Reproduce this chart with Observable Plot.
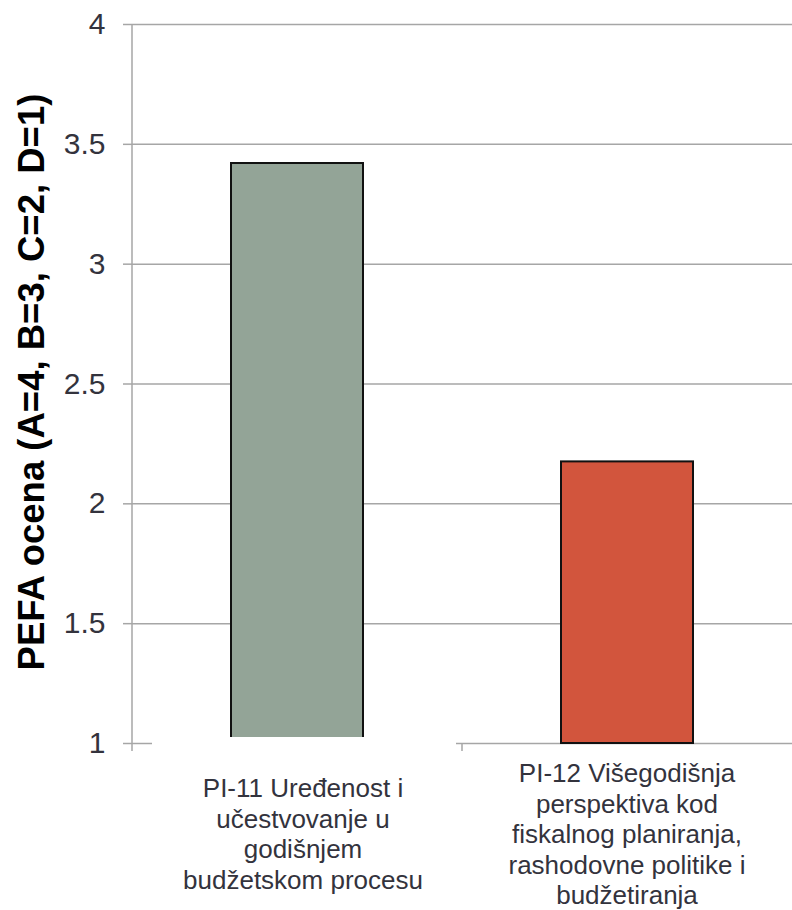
<!DOCTYPE html>
<html>
<head>
<meta charset="utf-8">
<script src="https://cdn.jsdelivr.net/npm/d3@7"></script>
<script src="https://cdn.jsdelivr.net/npm/@observablehq/plot@0.6"></script>
<style>
  html, body { margin: 0; padding: 0; background: #fff; }
  #chart { position: relative; width: 792px; height: 910px; }
</style>
</head>
<body>
<div id="chart"></div>
<script>
const categories = ["PI-11", "PI-12"];
const categoryLabels = [
  "PI-11 Uređenost i\nučestvovanje u\ngodišnjem\nbudžetskom procesu",
  "PI-12 Višegodišnja\nperspektiva kod\nfiskalnog planiranja,\nrashodovne politike i\nbudžetiranja"
];
const values = [3.42, 2.175];
const barColors = ["#93a497", "#d2553d"];
const yDomain = [1, 4];
const yTicks = [1, 1.5, 2, 2.5, 3, 3.5, 4];
const yTickLabels = ["1", "1.5", "2", "2.5", "3", "3.5", "4"];
const yTitle = "PEFA ocena (A=4, B=3, C=2, D=1)";

const data = categories.map((c, i) => ({cat: c, value: values[i], color: barColors[i], label: categoryLabels[i], base: yDomain[0]}));

const grid = "#a6a6a6";
const textColor = "#33333d";

const plot = Plot.plot({
  width: 792,
  height: 910,
  marginTop: 24,
  marginBottom: 167,
  marginLeft: 132,
  marginRight: 0,
  style: {fontFamily: "'Liberation Sans', Arial, sans-serif", background: "#fff"},
  x: {domain: categories, paddingInner: 0.6, paddingOuter: 0.3, axis: null},
  y: {domain: yDomain, axis: null},
  marks: [
    Plot.ruleY(yTicks, {stroke: grid, strokeWidth: 1.5}),
    Plot.axisY(yTicks, {tickSize: 9, tickPadding: 18, fontSize: 30, stroke: grid, strokeWidth: 1.5, fill: textColor, tickFormat: d => yTickLabels[yTicks.indexOf(d)], label: null}),
    Plot.barY(data, {x: "cat", y1: "base", y2: "value", fill: "color", stroke: "#111", strokeWidth: 2}),
    Plot.text([yTitle], {frameAnchor: "left", textAnchor: "middle", rotate: -90, dx: -100, dy: -2, text: d => d, fontSize: 36.5, fontWeight: "bold", fill: "#000"})
  ]
});

document.getElementById("chart").appendChild(plot);

// Axis line, category dividers and label masks computed from Plot's scales
const xs = plot.scale("x");
const ys = plot.scale("y");
const svg = d3.select(plot);
const step = xs.step;
const x0 = xs.range[0];
const yTop = ys.apply(yDomain[1]);
const yBase = ys.apply(yDomain[0]);

// white box of first label (covers axis and bar bottom like the original)
const c1 = xs.apply(categories[0]) + xs.bandwidth / 2;
svg.append("rect")
  .attr("x", c1 - 145).attr("y", yBase - 6)
  .attr("width", 304).attr("height", 160)
  .attr("fill", "#fff");

svg.append("line")
  .attr("x1", x0).attr("x2", x0).attr("y1", yTop).attr("y2", yBase + 8)
  .attr("stroke", grid).attr("stroke-width", 1.5);
categories.slice(1).forEach(c => {
  const bx = xs.apply(c) + xs.bandwidth / 2 - step / 2;
  svg.append("line")
    .attr("x1", bx).attr("x2", bx).attr("y1", yBase).attr("y2", yBase + 8)
    .attr("stroke", grid).attr("stroke-width", 1.5);
});

// category labels
const lab = svg.append("g")
  .attr("font-family", "'Liberation Sans', Arial, sans-serif")
  .attr("font-size", 26)
  .attr("fill", textColor)
  .attr("text-anchor", "middle");
const lineH = 30.5;
data.forEach((d, i) => {
  const cx = xs.apply(d.cat) + xs.bandwidth / 2 + (i === 0 ? 6 : 0);
  const lines = d.label.split("\n");
  const centerBaseline = yBase + 100;
  const first = centerBaseline - (lines.length - 1) / 2 * lineH;
  const t = lab.append("text");
  lines.forEach((l, j) => {
    t.append("tspan").attr("x", cx).attr("y", first + j * lineH).text(l);
  });
});
</script>
</body>
</html>
